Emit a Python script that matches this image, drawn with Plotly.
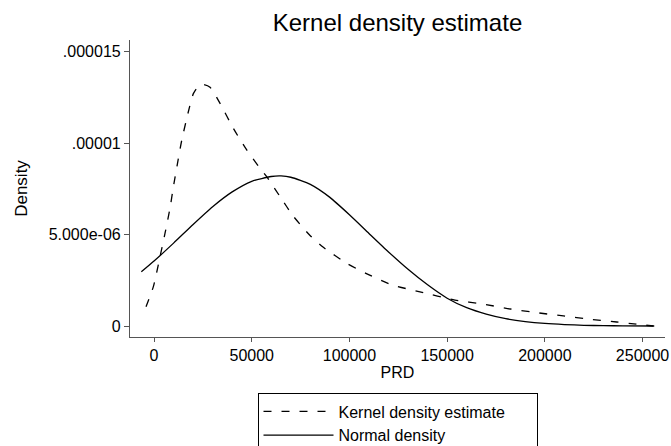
import plotly.graph_objects as go

# Kernel density estimate
kde_x = [-4100, -350, 3070, 5630, 8190, 9900, 12440, 14180, 17560, 20120, 22700,
         25230, 28660, 33780, 40590, 47440, 54250, 57670, 64490, 71300, 79840,
         86650, 98600, 108400, 122000, 136100, 154000, 168500, 182200, 195800,
         209500, 223100, 236800, 255500]
kde_y = [1.05e-6, 2.15e-6, 3.79e-6, 5.07e-6, 6.45e-6, 7.6e-6, 9.15e-6, 10.15e-6,
         11.71e-6, 12.7e-6, 13.1e-6, 13.2e-6, 13.05e-6, 12.17e-6, 10.8e-6, 9.62e-6,
         8.62e-6, 8.16e-6, 7.07e-6, 6.0e-6, 4.95e-6, 4.3e-6, 3.43e-6, 2.88e-6,
         2.24e-6, 1.87e-6, 1.42e-6, 1.2e-6, 0.93e-6, 0.73e-6, 0.55e-6, 0.37e-6,
         0.22e-6, 0.0]

# Normal density
norm_x = [-6500, 0, 10000, 20000, 30000, 40000, 50000, 60000, 65000, 70000, 80000, 90000,
          100000, 110000, 120000, 130000, 140000, 150000, 160000, 170000, 180000,
          190000, 200000, 210000, 220000, 230000, 240000, 256000]
norm_y = [2.96e-6, 3.55e-6, 4.53e-6, 5.55e-6, 6.52e-6, 7.33e-6, 7.91e-6, 8.17e-6, 8.2e-6,
          8.13e-6, 7.74e-6, 7.03e-6, 6.08e-6, 5.06e-6, 4.05e-6, 3.1e-6, 2.25e-6,
          1.52e-6, 1.0e-6, 0.65e-6, 0.4e-6, 0.24e-6, 0.14e-6, 0.08e-6, 0.04e-6,
          0.02e-6, 0.01e-6, 0.0]

xtick_vals = [0, 50000, 100000, 150000, 200000, 250000]
xtick_text = ["0", "50000", "100000", "150000", "200000", "250000"]
ytick_vals = [0, 5e-6, 1e-5, 1.5e-5]
ytick_text = ["0", "5.000e-06", ".00001", ".000015"]

FONT = "Liberation Sans, Arial, sans-serif"
AX = "#555555"
PAD = "\u00a0" * 6

fig = go.Figure()
fig.add_trace(go.Scatter(x=kde_x, y=kde_y, mode="lines", name="Kernel density estimate" + PAD,
                         line=dict(color="black", width=1.3, dash="8px,10px", shape="spline", smoothing=0.6)))
fig.add_trace(go.Scatter(x=norm_x, y=norm_y, mode="lines", name="Normal density",
                         line=dict(color="black", width=1.3, shape="spline", smoothing=0.6)))

fig.update_layout(
    width=671, height=446,
    margin=dict(l=130, r=6, t=40, b=109, autoexpand=False),
    paper_bgcolor="white", plot_bgcolor="white",
    font=dict(family=FONT, color="black"),
    title=dict(text="Kernel density estimate", x=0.5, xref="paper",
               y=1 - 23 / 446, yref="container", yanchor="middle",
               font=dict(size=24, family=FONT, color="black")),
    xaxis=dict(range=[-12300, 261500], showline=True, linecolor=AX, linewidth=1.2,
               ticks="outside", ticklen=4, tickcolor=AX, tickwidth=1.2,
               tickvals=xtick_vals, ticktext=xtick_text, tickfont=dict(size=16),
               showgrid=False, zeroline=False,
               title=dict(text="PRD", font=dict(size=16), standoff=3)),
    yaxis=dict(range=[-6e-7, 1.563e-5], showline=True, linecolor=AX, linewidth=1.2,
               ticks="outside", ticklen=5, tickcolor=AX, tickwidth=1.2,
               tickvals=ytick_vals, ticktext=ytick_text, tickfont=dict(size=16),
               showgrid=False, zeroline=False,
               title=dict(text="Density", font=dict(size=17), standoff=16)),
    legend=dict(x=0.5, xanchor="center", y=-0.19, yanchor="top",
                bordercolor="black", borderwidth=1, bgcolor="white",
                font=dict(size=16), itemwidth=70, tracegroupgap=0),
    showlegend=True,
)

fig.write_html("out.html")
